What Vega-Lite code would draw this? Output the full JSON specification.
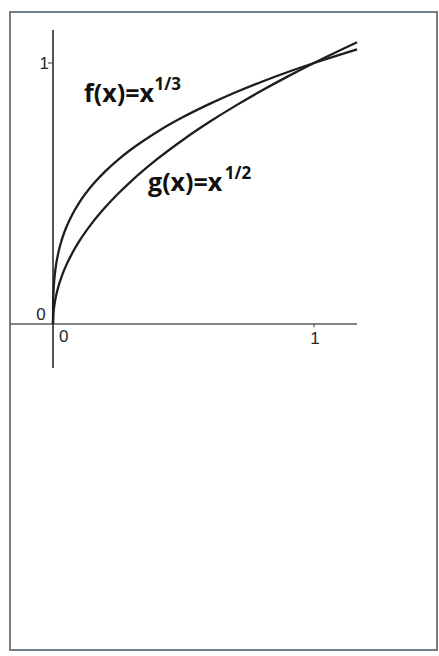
{
  "$schema": "https://vega.github.io/schema/vega-lite/v6.json",
  "autosize": "none",
  "width": 427,
  "height": 638,
  "padding": {"left": 10, "top": 12, "right": 2, "bottom": 6},
  "background": "#ffffff",
  "config": {
    "view": {"stroke": "#6f7f8c", "strokeWidth": 2}
  },
  "datasets": {
    "curves": [
      {"fn": "cbrt", "x": 0, "y": 0},
      {"fn": "cbrt", "x": 0.0005, "y": 0.0794},
      {"fn": "cbrt", "x": 0.002, "y": 0.126},
      {"fn": "cbrt", "x": 0.005, "y": 0.171},
      {"fn": "cbrt", "x": 0.01, "y": 0.2154},
      {"fn": "cbrt", "x": 0.02, "y": 0.2714},
      {"fn": "cbrt", "x": 0.035, "y": 0.3271},
      {"fn": "cbrt", "x": 0.05, "y": 0.3684},
      {"fn": "cbrt", "x": 0.075, "y": 0.4217},
      {"fn": "cbrt", "x": 0.1, "y": 0.4642},
      {"fn": "cbrt", "x": 0.15, "y": 0.5313},
      {"fn": "cbrt", "x": 0.2, "y": 0.5848},
      {"fn": "cbrt", "x": 0.25, "y": 0.63},
      {"fn": "cbrt", "x": 0.3, "y": 0.6694},
      {"fn": "cbrt", "x": 0.4, "y": 0.7368},
      {"fn": "cbrt", "x": 0.5, "y": 0.7937},
      {"fn": "cbrt", "x": 0.6, "y": 0.8434},
      {"fn": "cbrt", "x": 0.7, "y": 0.8879},
      {"fn": "cbrt", "x": 0.8, "y": 0.9283},
      {"fn": "cbrt", "x": 0.9, "y": 0.9655},
      {"fn": "cbrt", "x": 1.0, "y": 1.0},
      {"fn": "cbrt", "x": 1.1, "y": 1.0323},
      {"fn": "cbrt", "x": 1.165, "y": 1.0523},
      {"fn": "sqrt", "x": 0, "y": 0},
      {"fn": "sqrt", "x": 0.0005, "y": 0.0224},
      {"fn": "sqrt", "x": 0.002, "y": 0.0447},
      {"fn": "sqrt", "x": 0.005, "y": 0.0707},
      {"fn": "sqrt", "x": 0.01, "y": 0.1},
      {"fn": "sqrt", "x": 0.02, "y": 0.1414},
      {"fn": "sqrt", "x": 0.035, "y": 0.1871},
      {"fn": "sqrt", "x": 0.05, "y": 0.2236},
      {"fn": "sqrt", "x": 0.075, "y": 0.2739},
      {"fn": "sqrt", "x": 0.1, "y": 0.3162},
      {"fn": "sqrt", "x": 0.15, "y": 0.3873},
      {"fn": "sqrt", "x": 0.2, "y": 0.4472},
      {"fn": "sqrt", "x": 0.25, "y": 0.5},
      {"fn": "sqrt", "x": 0.3, "y": 0.5477},
      {"fn": "sqrt", "x": 0.4, "y": 0.6325},
      {"fn": "sqrt", "x": 0.5, "y": 0.7071},
      {"fn": "sqrt", "x": 0.6, "y": 0.7746},
      {"fn": "sqrt", "x": 0.7, "y": 0.8367},
      {"fn": "sqrt", "x": 0.8, "y": 0.8944},
      {"fn": "sqrt", "x": 0.9, "y": 0.9487},
      {"fn": "sqrt", "x": 1.0, "y": 1.0},
      {"fn": "sqrt", "x": 1.1, "y": 1.0488},
      {"fn": "sqrt", "x": 1.165, "y": 1.0794}
    ],
    "axisLines": [
      {"axis": "x", "x": -0.165, "x2": 1.165, "y": 0, "y2": 0},
      {"axis": "y", "x": 0, "x2": 0, "y": -0.169, "y2": 1.126}
    ],
    "ticks": [
      {"axis": "y", "x": -0.019, "x2": 0, "y": 1, "y2": 1},
      {"axis": "x", "x": 1, "x2": 1, "y": 0, "y2": -0.012}
    ],
    "tickLabels": [
      {"label": "0", "x": -0.046, "y": 0.035},
      {"label": "1", "x": -0.034, "y": 0.998},
      {"label": "0", "x": 0.041, "y": -0.05},
      {"label": "1", "x": 1.004, "y": -0.058}
    ],
    "fnLabels": [
      {"text": "f(x)=x", "x": 0.119, "y": 0.851},
      {"text": "g(x)=x", "x": 0.364, "y": 0.51}
    ],
    "exponents": [
      {"text": "1/3", "x": 0.389, "y": 0.897},
      {"text": "1/2", "x": 0.658, "y": 0.555}
    ]
  },
  "encoding": {
    "x": {"field": "x", "type": "quantitative", "axis": null,
          "scale": {"domain": [-0.1648, 1.4712], "nice": false, "zero": false}},
    "y": {"field": "y", "type": "quantitative", "axis": null,
          "scale": {"domain": [-1.249, 1.1954], "nice": false, "zero": false}}
  },
  "layer": [
    {
      "data": {"name": "axisLines"},
      "mark": {"type": "rule", "strokeWidth": 1.6},
      "encoding": {
        "x2": {"field": "x2"},
        "y2": {"field": "y2"},
        "color": {"field": "axis", "type": "nominal", "legend": null,
                  "scale": {"domain": ["x", "y"], "range": ["#5a5a5a", "#2a2a2a"]}}
      }
    },
    {
      "data": {"name": "ticks"},
      "mark": {"type": "rule", "strokeWidth": 1.2, "color": "#555555"},
      "encoding": {
        "x2": {"field": "x2"},
        "y2": {"field": "y2"}
      }
    },
    {
      "data": {"name": "curves"},
      "mark": {"type": "line", "color": "#1e1e1e", "strokeWidth": 2.3, "interpolate": "monotone"},
      "encoding": {
        "detail": {"field": "fn", "type": "nominal"}
      }
    },
    {
      "data": {"name": "tickLabels"},
      "mark": {"type": "text", "font": "Liberation Sans", "fontSize": 17, "color": "#262626",
               "align": "center", "baseline": "middle"},
      "encoding": {
        "text": {"field": "label"}
      }
    },
    {
      "data": {"name": "fnLabels"},
      "mark": {"type": "text", "font": "Open Sans", "fontWeight": "bold", "fontSize": 25, "color": "#111111",
               "align": "left", "baseline": "alphabetic"},
      "encoding": {
        "text": {"field": "text"}
      }
    },
    {
      "data": {"name": "exponents"},
      "mark": {"type": "text", "font": "Open Sans", "fontWeight": "bold", "fontSize": 17, "color": "#111111",
               "align": "left", "baseline": "alphabetic"},
      "encoding": {
        "text": {"field": "text"}
      }
    }
  ]
}
